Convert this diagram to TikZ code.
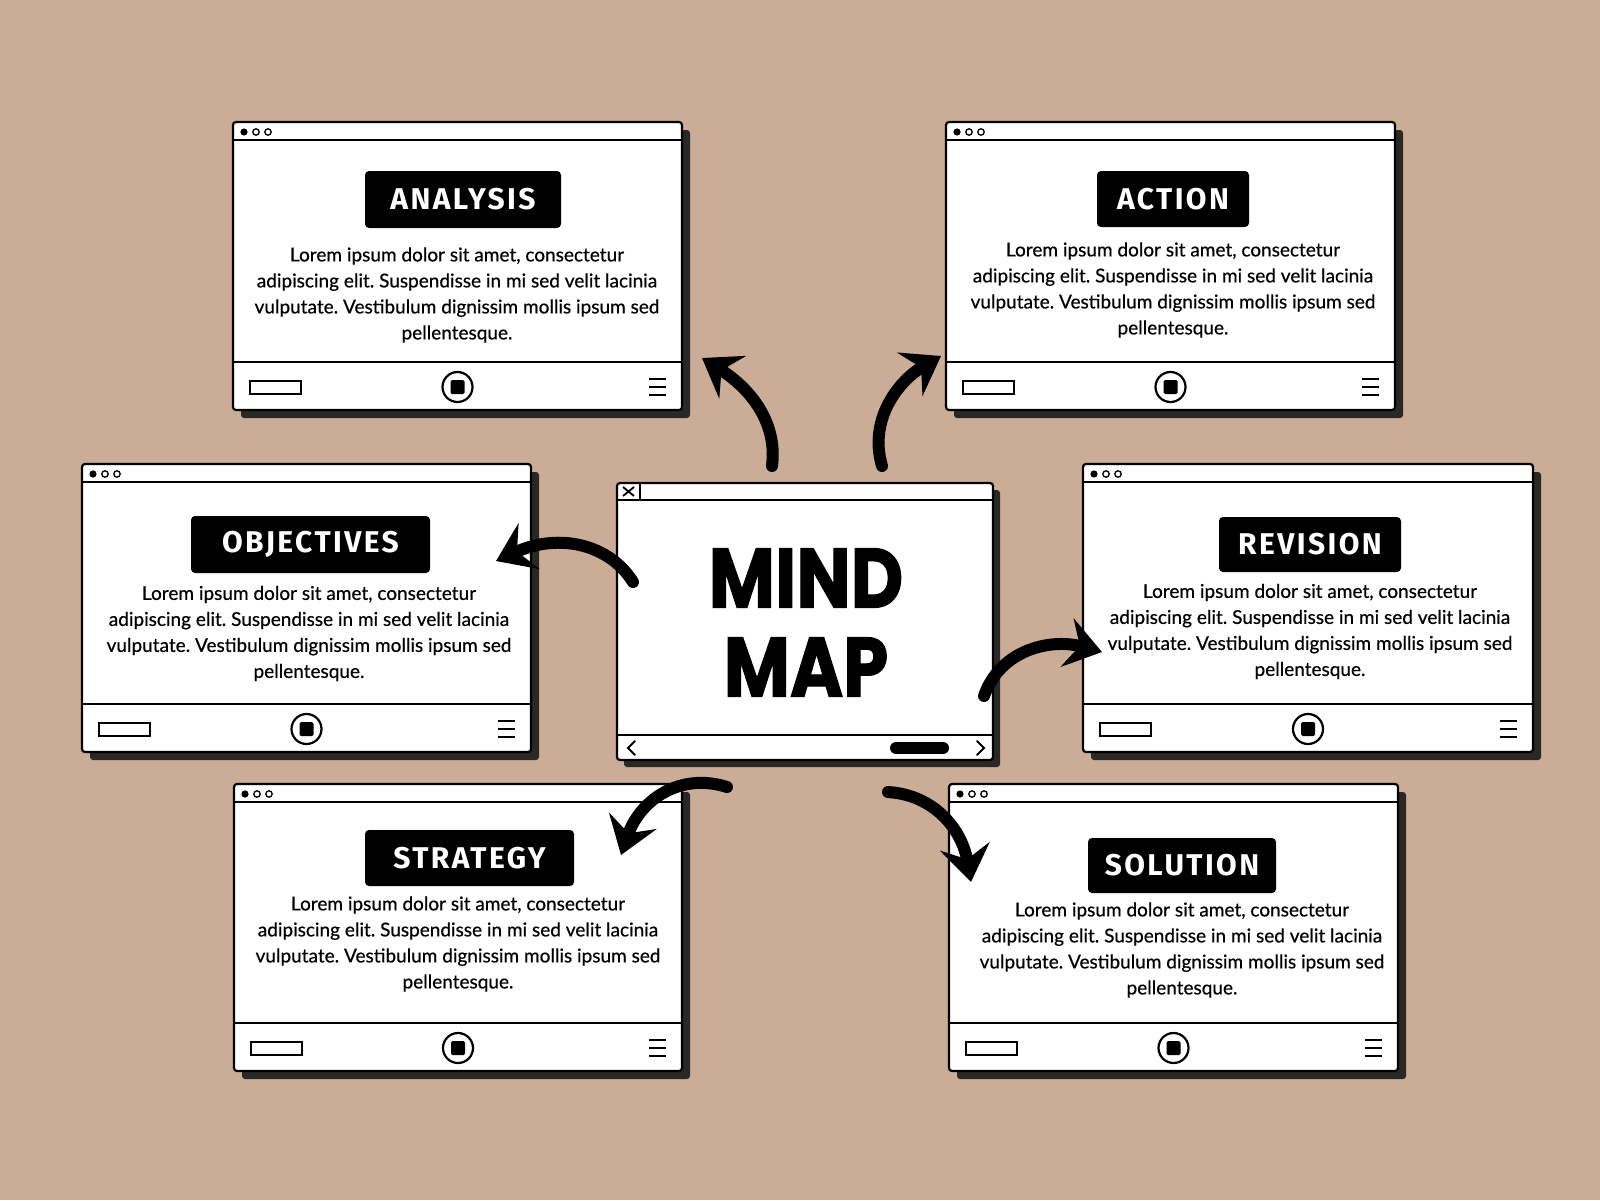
\documentclass[tikz,border=0pt]{standalone}
\usepackage{fontspec}
\setmainfont{Lato}
\newfontfamily\bodyfont{Lato}[FakeBold=0.5]
\newfontfamily\labelfont{Fira Sans}[LetterSpace=8]
\newfontfamily\titlefont{Poppins}[BoldFeatures={FakeBold=1.5}]
\usetikzlibrary{arrows.meta}
\definecolor{kraft}{RGB}{203,172,150}
\definecolor{shade}{RGB}{42,40,38}
\tikzset{
  winframe/.style={draw=black, line width=2.2pt, fill=white, rounded corners=3pt, inner sep=0pt},
  winshadow/.style={fill=shade, rounded corners=3pt},
  barline/.style={draw=black, line width=2pt},
  thinline/.style={draw=black, line width=1.7pt},
  tagbox/.style={fill=black, text=white, rounded corners=4pt, inner sep=0pt,
    font=\labelfont\bfseries\fontsize{30}{32}\selectfont},
  bodytext/.style={align=center, inner sep=0pt, text=black,
    font=\bodyfont\fontsize{19}{26}\selectfont},
  flowarrow/.style={line width=12pt, black, line cap=round,
    -{Stealth[length=36pt, width=50pt, inset=13pt]}},
}
\newcommand\mmwin[5]{%
  \fill[winshadow] (#2+8,#3+8) rectangle (#4+8,#5+8);
  \node[winframe, minimum width={(#4-#2)*1pt}, minimum height={(#5-#3)*1pt}]
    (#1) at ({(#2+#4)/2},{(#3+#5)/2}) {};
  \draw[barline] (#2,#3+18) -- (#4,#3+18);
  \draw[barline] (#2,#5-48) -- (#4,#5-48);
  \fill (#2+11,#3+10) circle (3.6);
  \draw[line width=1.3pt] (#2+23,#3+10) circle (3.2);
  \draw[line width=1.3pt] (#2+35,#3+10) circle (3.2);
  \draw[thinline] (#2+17,#5-29) rectangle (#2+68,#5-16);
  \draw[line width=2.2pt] ({(#2+#4)/2},#5-23) circle (15);
  \fill[rounded corners=1.5pt] ({(#2+#4)/2-7},#5-30) rectangle ({(#2+#4)/2+7},#5-16);
  \draw[thinline] (#4-33,#5-31) -- (#4-16,#5-31);
  \draw[thinline] (#4-33,#5-23) -- (#4-16,#5-23);
  \draw[thinline] (#4-33,#5-15) -- (#4-16,#5-15);
}
\newcommand\lorem{Lorem ipsum dolor sit amet, consectetur\\adipiscing elit. Suspendisse in mi sed velit lacinia\\vulputate. Vestibulum dignissim mollis ipsum sed\\pellentesque.}
\frenchspacing
\begin{document}
\begin{tikzpicture}[x=1pt, y=-1pt]
  \fill[kraft] (0,0) rectangle (1600,1200);
  \useasboundingbox (0,0) rectangle (1600,1200);

  % windows
  \mmwin{analysis}{233}{122}{682}{410}
  \mmwin{action}{946}{122}{1395}{410}
  \mmwin{objectives}{82}{464}{531}{752}
  \mmwin{revision}{1083}{464}{1533}{752}
  \mmwin{strategy}{234}{784}{682}{1071}
  \mmwin{solution}{949}{784}{1398}{1071}

  % central window
  \fill[winshadow] (624,490) rectangle (1000,767);
  \node[winframe, minimum width=376pt, minimum height=277pt] (center) at (805,621.5) {};
  \draw[barline] (617,500) -- (993,500);
  \draw[barline] (617,735) -- (993,735);
  \draw[thinline] (640,483) -- (640,500);
  \draw[line width=1.8pt] (623,487) -- (634,496) (634,487) -- (623,496);
  \draw[line width=2pt, line cap=round] (635,741) -- (628,748) -- (635,755);
  \draw[line width=2pt, line cap=round] (977,741) -- (984,748) -- (977,755);
  \draw[shade, line width=12pt, line cap=round] (896,748) -- (943,748);
  \node[font=\titlefont\bfseries\fontsize{84}{84}\selectfont, inner sep=0pt, xscale=0.86, transform shape] (mind) at (806,578) {MIND};
  \node[font=\titlefont\bfseries\fontsize{84}{84}\selectfont, inner sep=0pt, xscale=0.86, transform shape] (map) at (806,667) {MAP};

  % labels
  \node[tagbox, minimum width=196pt, minimum height=57pt] (tA) at (463,199.5) {ANALYSIS};
  \node[tagbox, minimum width=152pt, minimum height=56pt] (tB) at (1173,199) {ACTION};
  \node[tagbox, minimum width=239pt, minimum height=57pt] (tC) at (310.5,544.5) {OBJECTIVES};
  \node[tagbox, minimum width=182pt, minimum height=55pt] (tD) at (1310,544.5) {REVISION};
  \node[tagbox, minimum width=209pt, minimum height=56pt] (tE) at (469.5,858) {STRATEGY};
  \node[tagbox, minimum width=188pt, minimum height=55pt] (tF) at (1182,865.5) {SOLUTION};

  % body texts
  \node[bodytext] (xA) at (457,295) {\lorem};
  \node[bodytext] (xB) at (1173,290) {\lorem};
  \node[bodytext] (xC) at (309,633.5) {\lorem};
  \node[bodytext] (xD) at (1310,631.5) {\lorem};
  \node[bodytext] (xE) at (458,944) {\lorem};
  \node[bodytext] (xF) at (1182,950) {\lorem};

  % arrow end points
  \coordinate (a1s) at (772,466);  \coordinate (a1e) at (702,358);
  \coordinate (a2s) at (882,466);  \coordinate (a2e) at (941,356);
  \coordinate (a3s) at (633,582);  \coordinate (a3e) at (496,561);
  \coordinate (a4s) at (984,696);  \coordinate (a4e) at (1102,652);
  \coordinate (a5s) at (727,787);  \coordinate (a5e) at (621,855);
  \coordinate (a6s) at (888,792);  \coordinate (a6e) at (971,882);

  \draw[flowarrow] (a1s) .. controls (778,418) and (745,385) .. (a1e);
  \draw[flowarrow] (a2s) .. controls (868,418) and (900,380) .. (a2e);
  \draw[flowarrow] (a3s) .. controls (610,545) and (560,532) .. (a3e);
  \draw[flowarrow] (a4s) .. controls (1000,650) and (1050,638) .. (a4e);
  \draw[flowarrow] (a5s) .. controls (680,772) and (640,800) .. (a5e);
  \draw[flowarrow] (a6s) .. controls (935,795) and (962,830) .. (a6e);
\end{tikzpicture}
\end{document}
